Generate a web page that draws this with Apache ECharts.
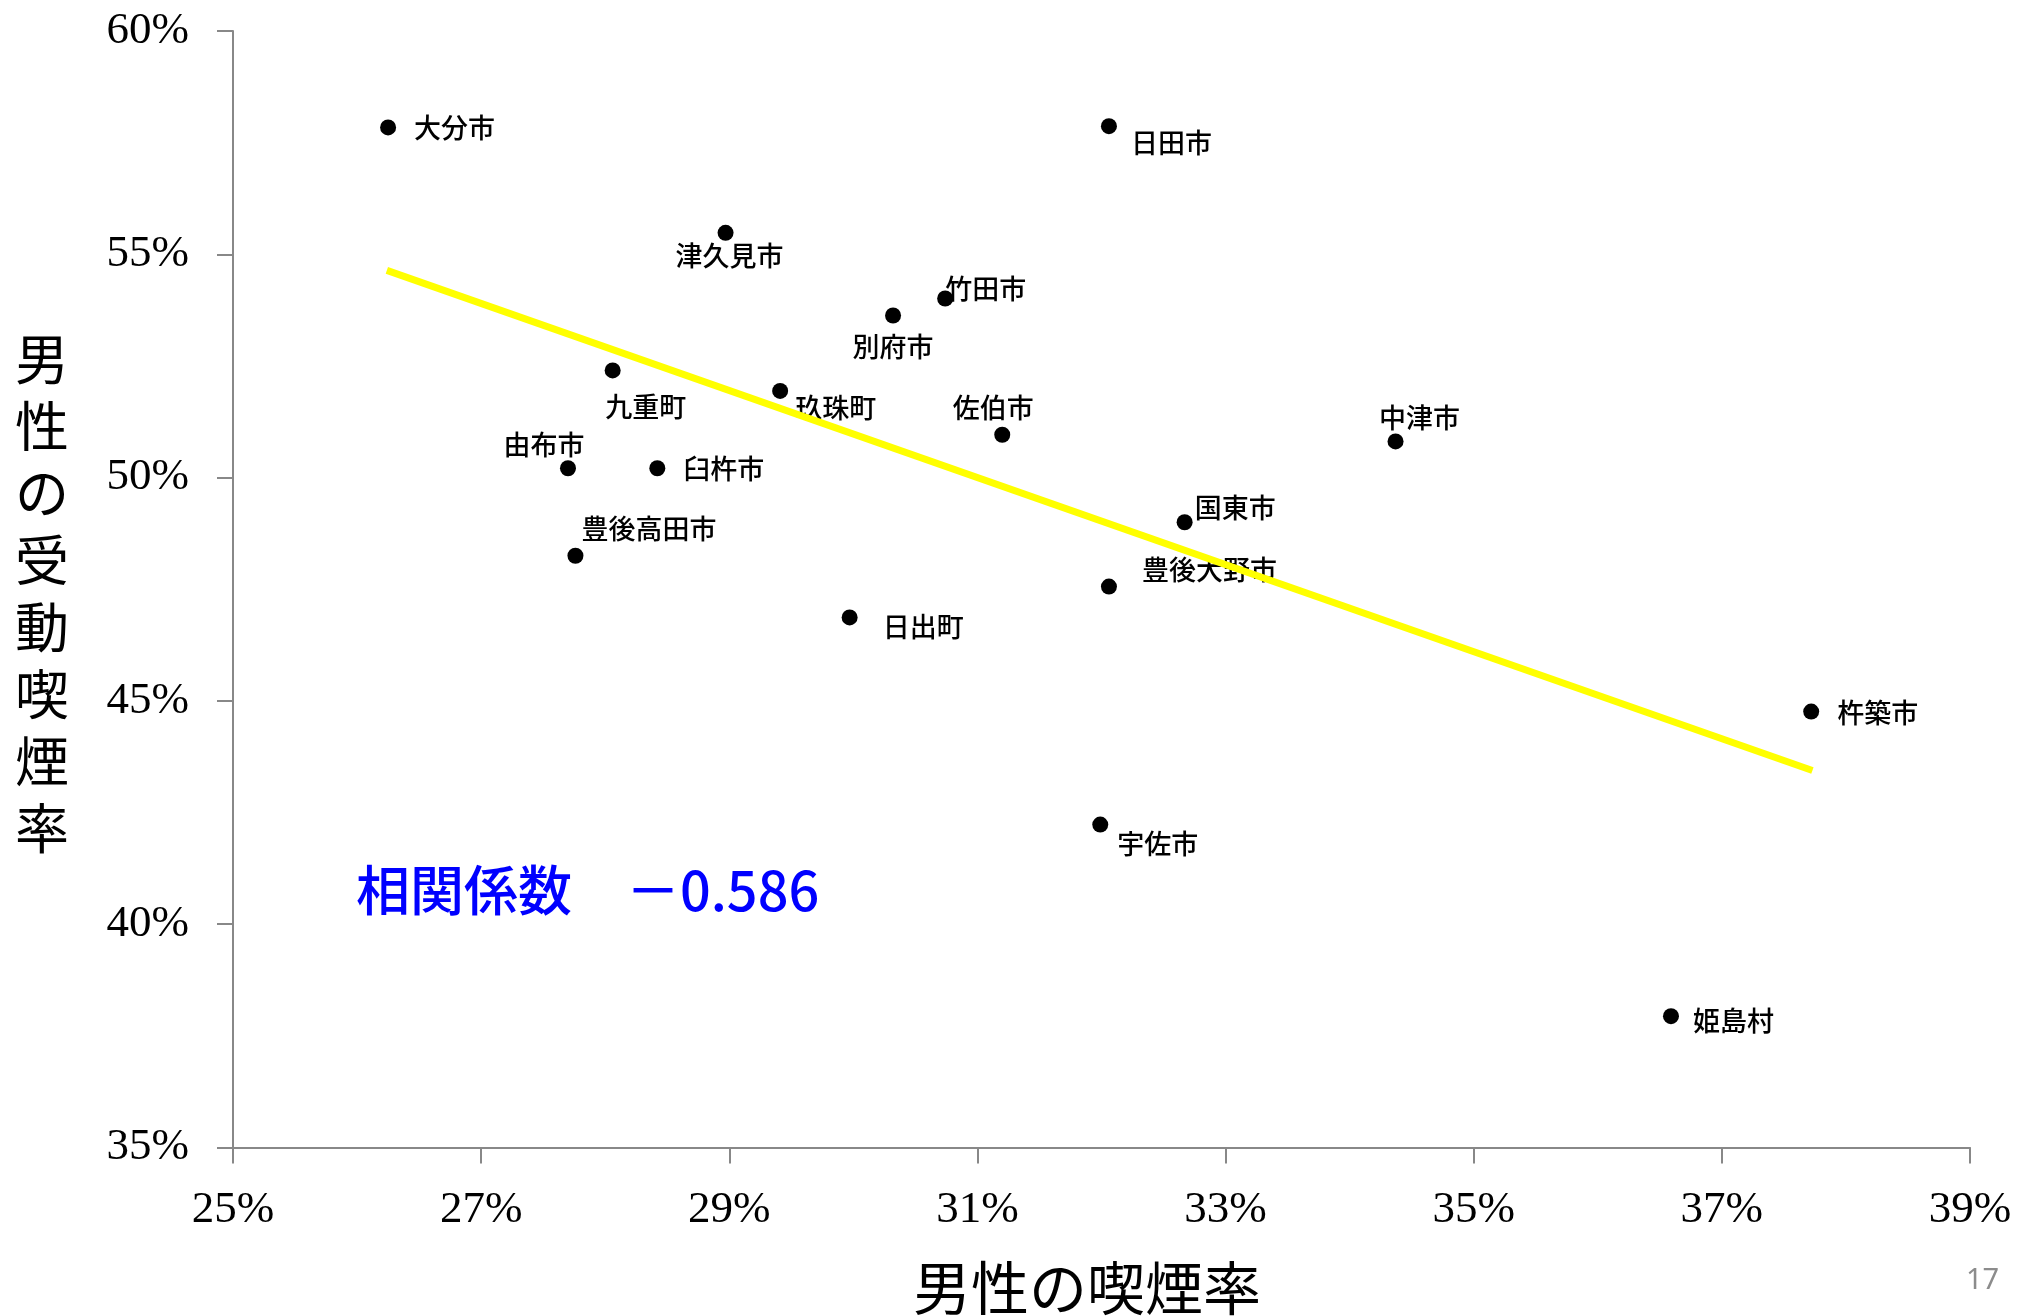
<!DOCTYPE html>
<html>
<head>
<meta charset="utf-8">
<script src="https://cdn.jsdelivr.net/npm/echarts@6/dist/echarts.min.js"></script>
<style>
html,body{margin:0;padding:0;background:#fff;}
#chart{width:2017px;height:1316px;}
</style>
</head>
<body>
<div id="chart"></div>
<script>
// ---- data ----
const names = ['大分市','日田市','津久見市','竹田市','別府市','九重町','玖珠町','佐伯市','中津市','由布市','臼杵市','国東市','豊後高田市','豊後大野市','日出町','杵築市','宇佐市','姫島村'];
const maleSmoking = [26.25,32.06,28.97,30.74,30.32,28.06,29.41,31.20,34.37,27.70,28.42,32.67,27.76,32.06,29.97,37.72,31.99,36.59];
const passiveSmoking = [57.84,57.87,55.48,54.01,53.63,52.40,51.94,50.96,50.81,50.21,50.21,49.00,48.25,47.56,46.87,44.76,42.23,37.94];
const trendX = [26.24, 37.73];
const trendY = [54.64, 43.44];
const xTicks = [25,27,29,31,33,35,37,39];
const yTicks = [35,40,45,50,55,60];
const corrText = '相関係数　－0.586';
const xTitle = '男性の喫煙率';
const yTitle = '男性の受動喫煙率';
const pageNo = '17';

// ---- label layout (style, not data) ----
const labelLayout = {
  '大分市':['left',26,0], '日田市':['left',22,17], '津久見市':['center',4,23],
  '竹田市':['left',0,-10], '別府市':['center',0,31], '九重町':['center',33,36],
  '玖珠町':['left',15,17], '佐伯市':['center',-9,-27], '中津市':['center',24,-24],
  '由布市':['center',-24,-23], '臼杵市':['left',26,1], '国東市':['left',10,-15],
  '豊後高田市':['left',6,-27], '豊後大野市':['left',33,-17], '日出町':['left',33,9],
  '杵築市':['left',26,1], '宇佐市':['left',17,19], '姫島村':['left',22,5]
};

const scatterData = names.map((n,i)=>{
  const L = labelLayout[n];
  return {
    name:n, value:[maleSmoking[i], passiveSmoking[i]],
    label:{show:true, position:'inside', align:L[0], verticalAlign:'middle', offset:[L[1],L[2]]}
  };
});

const chart = echarts.init(document.getElementById('chart'), null, {renderer:'canvas'});
const serif = '"Liberation Serif","DejaVu Serif",serif';
const cjk = '"Noto Sans CJK JP","Noto Sans",sans-serif';
const axisGray = '#888888';

chart.setOption({
  animation:false,
  backgroundColor:'#ffffff',
  grid:{left:233, right:47, top:31, bottom:168.5, containLabel:false},
  xAxis:{
    type:'value', min:xTicks[0], max:xTicks[xTicks.length-1], interval:2,
    splitLine:{show:false},
    axisLine:{show:true, lineStyle:{color:axisGray, width:2}},
    axisTick:{show:true, length:16, lineStyle:{color:axisGray, width:2}},
    axisLabel:{margin:40, color:'#000', fontFamily:serif, fontSize:45, formatter:v=>v+'%'}
  },
  yAxis:{
    type:'value', min:yTicks[0], max:yTicks[yTicks.length-1], interval:5,
    splitLine:{show:false},
    axisLine:{show:true, lineStyle:{color:axisGray, width:2}},
    axisTick:{show:true, length:16, lineStyle:{color:axisGray, width:2}},
    axisLabel:{margin:44, color:'#000', fontFamily:serif, fontSize:45, formatter:v=>v+'%'}
  },
  graphic:[
    {type:'text', left:42-27, top:326, style:{text:yTitle.split('').join('\n'), fill:'#000', font:'54px '+cjk, lineHeight:67, align:'center'}},
    {type:'text', x:1087, y:1288, style:{text:xTitle, fill:'#000', font:'58px '+cjk, align:'center', verticalAlign:'middle'}},
    {type:'text', left:356, top:891-28, style:{text:corrText, fill:'#0000ff', font:'500 54px '+cjk}},
    {type:'text', left:1966, top:1266, style:{text:pageNo, fill:'#8c8c8c', font:'29px "Noto Sans",sans-serif'}}
  ],
  series:[
    {
      type:'scatter', z:2, symbol:'circle', symbolSize:16,
      itemStyle:{color:'#000', opacity:1},
      label:{color:'#000', fontFamily:cjk, fontSize:27, fontWeight:500, formatter:p=>p.name},
      data:scatterData
    },
    {
      type:'line', z:5, symbol:'none', silent:true,
      lineStyle:{color:'#ffff00', width:7, cap:'butt'},
      data:trendX.map((x,i)=>[x, trendY[i]])
    }
  ]
});
</script>
</body>
</html>
